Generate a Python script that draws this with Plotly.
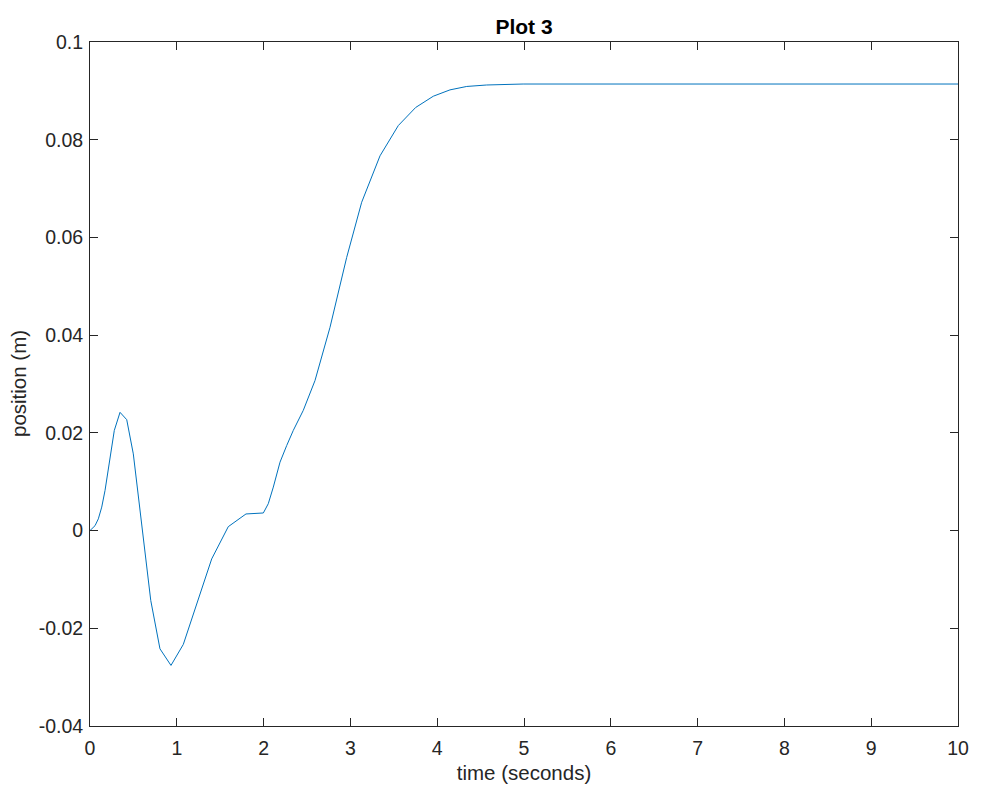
import plotly.graph_objects as go

time_s = [0, 0.058, 0.096, 0.135, 0.173, 0.23, 0.28, 0.346, 0.423, 0.499, 0.596, 0.70,
          0.806, 0.933, 1.075, 1.229, 1.402, 1.593, 1.797, 1.997, 2.054, 2.112, 2.189,
          2.266, 2.342, 2.457, 2.592, 2.765, 2.957, 3.130, 3.341, 3.552, 3.752, 3.955,
          4.147, 4.340, 4.57, 4.99, 5.5, 6, 7, 8, 9, 10]
position_m = [0, 0.0010, 0.0024, 0.0048, 0.0082, 0.0150, 0.0205, 0.0242, 0.0227, 0.0157,
              0.0014, -0.0143, -0.0242, -0.0276, -0.0233, -0.0150, -0.0058, 0.0008, 0.0034,
              0.0036, 0.0055, 0.0089, 0.0140, 0.0174, 0.0205, 0.0246, 0.0307, 0.0416,
              0.0559, 0.0672, 0.0767, 0.0829, 0.0866, 0.0889, 0.0902, 0.0909, 0.0912,
              0.0914, 0.0914, 0.0914, 0.0914, 0.0914, 0.0914, 0.0914]

x_ticks = list(range(0, 11))
y_tickvals = [0.1, 0.08, 0.06, 0.04, 0.02, 0, -0.02, -0.04]
y_ticktext = ["0.1", "0.08", "0.06", "0.04", "0.02", "0", "-0.02", "-0.04"]

ink = "#262626"
font = "Liberation Sans, Arial, Helvetica, sans-serif"

fig = go.Figure()
fig.add_trace(go.Scatter(x=time_s, y=position_m, mode="lines",
                         line=dict(color="#0072BD", width=1), showlegend=False))

fig.update_layout(
    width=992, height=804,
    margin=dict(l=82, r=42, t=34, b=86),
    paper_bgcolor="white", plot_bgcolor="white",
    font=dict(family=font, color=ink, size=19.5),
    title=dict(text="<b>Plot 3</b>", x=0.5, xanchor="center", y=1 - 19 / 804, yanchor="middle",
               xref="paper", font=dict(size=21, color="black", family=font)),
    annotations=[dict(text="position (m)", textangle=-90, xref="paper", yref="paper",
                      x=-72 / 868, y=0.5, xanchor="center", yanchor="middle",
                      showarrow=False, font=dict(size=20.5, color=ink, family=font))],
)
fig.update_xaxes(
    range=[0, 10], tickvals=x_ticks, ticktext=[str(v) for v in x_ticks],
    showgrid=False, zeroline=False, showline=True, linecolor=ink, linewidth=1,
    mirror="allticks", ticks="inside", ticklen=8, tickcolor=ink, tickwidth=1,
    ticklabelstandoff=5, automargin=False,
    tickfont=dict(size=19.5), title=dict(text="time (seconds)", font=dict(size=20.5), standoff=7),
)
fig.update_yaxes(
    range=[-0.04, 0.1], tickvals=y_tickvals, ticktext=y_ticktext,
    showgrid=False, zeroline=False, showline=True, linecolor=ink, linewidth=1,
    mirror="allticks", ticks="inside", ticklen=8, tickcolor=ink, tickwidth=1,
    ticklabelstandoff=2, automargin=False,
    tickfont=dict(size=19.5),
)

fig.write_html("out.html")
